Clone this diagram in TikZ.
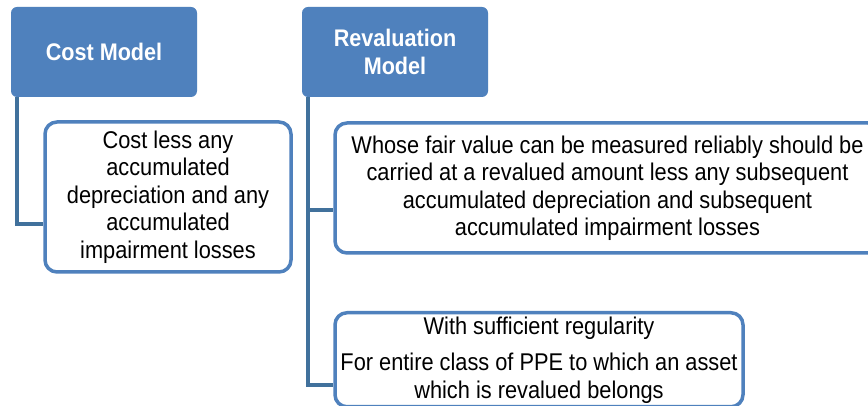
\documentclass[tikz,border=0pt]{standalone}
\usepackage{fontspec}
\setmainfont{Liberation Sans}[FakeStretch=0.9]
\usepackage{tikz}
\usetikzlibrary{positioning}
\definecolor{hdrblue}{HTML}{4F81BD}
\definecolor{linkblue}{HTML}{41719C}

\begin{document}
\begin{tikzpicture}[x=1pt,y=1pt,
                hdr/.style={rectangle,fill=hdrblue,rounded corners=6pt,
                    minimum width=186pt,minimum height=90pt,
                    text=white,font=\fontsize{24}{28}\selectfont\bfseries,
                    align=center,inner sep=0pt},
                infobox/.style={rectangle,draw=hdrblue,line width=3.5pt,
                    rounded corners=12pt,fill=white,inner sep=0pt,
                    font=\fontsize{24.2}{27.5}\selectfont,align=center},
                link/.style={draw=linkblue,line width=4pt}]
                \clip (0,0) rectangle (868,406);
                \fill[white] (0,0) rectangle (868,406);
                \node[hdr](costhdr) at (104,354) {Cost Model};
                \node[hdr](revhdr) at (395,354) {Revaluation\\Model};
                \node[infobox,minimum width=246pt,minimum height=150pt](costbox) at (168,209)
                    {Cost less any\\accumulated\\depreciation and any\\accumulated\\impairment losses};
                \node[infobox,minimum width=545pt,minimum height=130pt](revboxa) at (607.5,218)
                    {Whose fair value can be measured reliably should be\\carried at a revalued amount less any subsequent\\accumulated depreciation and subsequent\\accumulated impairment losses};
                \node[infobox,minimum width=408pt,minimum height=94pt,anchor=north](revboxb) at (539,95)
                    {With sufficient regularity\\[9pt]For entire class of PPE to which an asset\\which is revalued belongs};
                % connectors
                \draw[link] ([xshift=6pt]costhdr.south west) |- ([yshift=-27pt]costbox.west);
                \draw[link] ([xshift=6pt]revhdr.south west) |- ([yshift=-22pt]revboxa.west);
                \draw[link] ([xshift=6pt]revhdr.south west) |- ([yshift=-74pt]revboxb.north west);
            \end{tikzpicture}
\end{document}
